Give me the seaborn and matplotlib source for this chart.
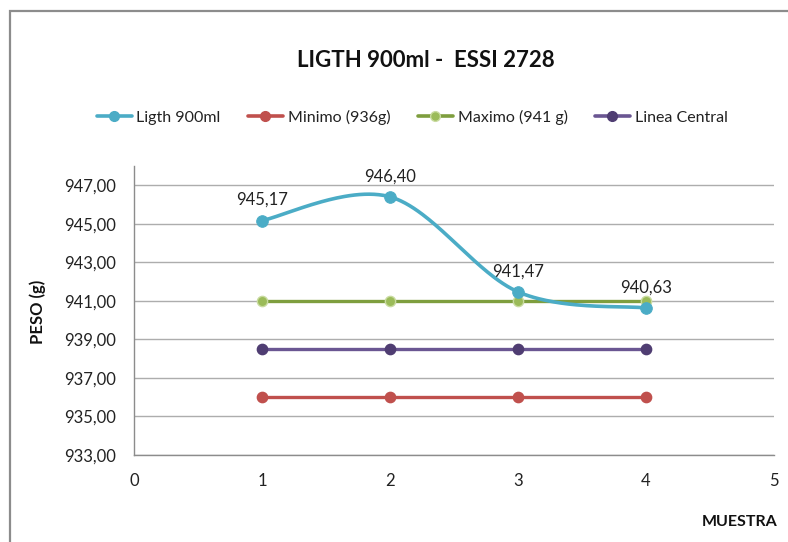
import numpy as np
import pandas as pd
import matplotlib
matplotlib.use("Agg")
import matplotlib.pyplot as plt
from matplotlib.ticker import FuncFormatter, MultipleLocator
from matplotlib.lines import Line2D
from matplotlib.patches import Rectangle
import seaborn as sns

# Data
muestra = [1, 2, 3, 4]
ligth_900ml = [945.17, 946.40, 941.47, 940.63]
minimo = [936.0, 936.0, 936.0, 936.0]
maximo = [941.0, 941.0, 941.0, 941.0]
linea_central = [938.5, 938.5, 938.5, 938.5]

series_names = ["Ligth 900ml", "Minimo (936g)", "Maximo (941 g)", "Linea Central"]
line_colors = ["#4BACC6", "#C0504D", "#7E9E3E", "#6A5692"]
marker_colors = ["#4BACC6", "#C0504D", "#9BBB59", "#4F3D72"]
marker_edges = ["#4BACC6", "#C0504D", "#C9DBA0", "#4F3D72"]

sns.set_theme(style="white")
plt.rcParams["font.family"] = ["Lato", "DejaVu Sans"]

fig = plt.figure(figsize=(7.88, 5.42), dpi=100)
ax = fig.add_axes([134 / 788, 1 - 455 / 542, 640 / 788, (455 - 166) / 542])

# Chart frame
fig.patches.append(Rectangle((10 / 788, -0.05), 1.2, 1 - 10.5 / 542 + 0.05,
                             transform=fig.transFigure, fill=False,
                             edgecolor="#8C8C8C", linewidth=1.6, zorder=0))


def smooth_curve(x, y, n=60):
    """Bezier smoothing through the points (Catmull-Rom style tangents)."""
    x = np.asarray(x, float)
    y = np.asarray(y, float)
    px = np.concatenate([[x[0]], x, [x[-1]]])
    py = np.concatenate([[y[0]], y, [y[-1]]])
    xs, ys = [], []
    t = np.linspace(0, 1, n)
    for i in range(1, len(px) - 2):
        p0 = np.array([px[i], py[i]])
        p3 = np.array([px[i + 1], py[i + 1]])
        c1 = p0 + (np.array([px[i + 1], py[i + 1]]) - np.array([px[i - 1], py[i - 1]])) / 6
        c2 = p3 - (np.array([px[i + 2], py[i + 2]]) - np.array([px[i], py[i]])) / 6
        b = ((1 - t) ** 3)[:, None] * p0 + (3 * (1 - t) ** 2 * t)[:, None] * c1 \
            + (3 * (1 - t) * t ** 2)[:, None] * c2 + (t ** 3)[:, None] * p3
        xs.extend(b[:, 0])
        ys.extend(b[:, 1])
    return np.array(xs), np.array(ys)


# Flat reference lines
order = [1, 3, 2]
flat = {1: minimo, 2: maximo, 3: linea_central}
for k in order:
    df = pd.DataFrame({"x": muestra, "y": flat[k]})
    sns.lineplot(data=df, x="x", y="y", ax=ax, color=line_colors[k],
                 linewidth=2.4, zorder=3)
    sns.scatterplot(data=df, x="x", y="y", ax=ax, color=marker_colors[k],
                    edgecolor=marker_edges[k], linewidth=1.0, s=55, zorder=4)

# Smoothed main series
sx, sy = smooth_curve(muestra, ligth_900ml)
sns.lineplot(x=sx, y=sy, ax=ax, sort=False, estimator=None,
             color=line_colors[0], linewidth=2.6, zorder=5)
sns.scatterplot(x=muestra, y=ligth_900ml, ax=ax, color=marker_colors[0],
                edgecolor=marker_edges[0], s=70, zorder=6)

fmt = lambda v: f"{v:.2f}".replace(".", ",")
for xv, yv in zip(muestra, ligth_900ml):
    ax.annotate(fmt(yv), (xv, yv), xytext=(0, 9), textcoords="offset points",
                ha="center", va="bottom", fontsize=12, color="#222222")

ax.set_xlim(0, 5)
ax.set_ylim(933, 948)
ax.xaxis.set_major_locator(MultipleLocator(1))
ax.set_yticks(np.arange(933, 948, 2))
ax.yaxis.set_major_formatter(FuncFormatter(lambda v, p: fmt(v)))
ax.xaxis.set_major_formatter(FuncFormatter(lambda v, p: f"{int(v)}"))
ax.grid(axis="y", color="#ADADAD", linewidth=1.0)
ax.set_axisbelow(True)
for s in ["top", "right"]:
    ax.spines[s].set_visible(False)
for s in ["left", "bottom"]:
    ax.spines[s].set_color("#8C8C8C")
    ax.spines[s].set_linewidth(1.0)
ax.tick_params(axis="both", which="major", direction="out", length=5,
               width=1.0, color="#8C8C8C", labelsize=12, labelcolor="#222222")
ax.tick_params(axis="y", pad=8)
ax.tick_params(axis="x", pad=8)
ax.set_xlabel("")
ax.set_ylabel("")

fig.text(426 / 788, 1 - 60 / 542, "LIGTH 900ml -  ESSI 2728", ha="center",
         va="center", fontsize=16, fontweight="bold", color="#111111")
fig.text(38 / 788, 1 - 312 / 542, "PESO (g)", rotation=90, ha="center",
         va="center", fontsize=12, fontweight="bold", color="#111111")
fig.text(740 / 788, 1 - 522 / 542, "MUESTRA", ha="center", va="center",
         fontsize=11.5, fontweight="bold", color="#111111")

handles = [Line2D([0], [0], color=line_colors[i], linewidth=2.6, marker="o",
                  markersize=7, markerfacecolor=marker_colors[i],
                  markeredgecolor=marker_edges[i]) for i in range(4)]
fig.legend(handles, series_names, loc="center", ncol=4,
           bbox_to_anchor=(412 / 788, 1 - 117 / 542), frameon=False,
           fontsize=11.5, handlelength=2.2, handletextpad=0.3,
           columnspacing=1.7, labelcolor="#222222")

fig.savefig("out.png", dpi=100)
